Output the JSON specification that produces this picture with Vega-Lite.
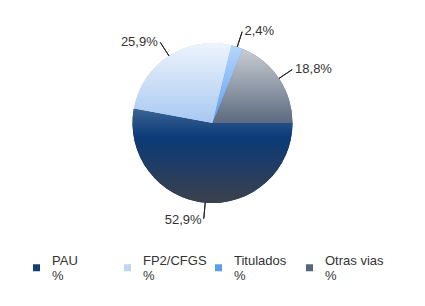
{
  "$schema": "https://vega.github.io/schema/vega-lite/v6.json",
  "width": 425,
  "height": 246,
  "autosize": "none",
  "padding": {"left": 0, "top": 0, "right": 0, "bottom": 60},
  "background": "white",
  "config": {"view": {"stroke": null}, "font": "Liberation Sans"},
  "data": {"values": [
    {"cat": "PAU", "pct": 52.9, "lbl": "52,9%", "o": 1, "side": "L"},
    {"cat": "FP2/CFGS", "pct": 25.9, "lbl": "25,9%", "o": 2, "side": "L"},
    {"cat": "Titulados", "pct": 2.4, "lbl": "2,4%", "o": 3, "side": "R"},
    {"cat": "Otras vias", "pct": 18.8, "lbl": "18,8%", "o": 4, "side": "R"}
  ]},
  "transform": [
    {"stack": "pct", "groupby": [], "as": ["s", "e"], "sort": [{"field": "o"}]},
    {"calculate": "(datum.s + datum.e) / 2", "as": "mid"}
  ],
  "layer": [
    {
      "mark": {"type": "arc", "outerRadius": 80},
      "encoding": {
        "theta": {"field": "s", "type": "quantitative", "stack": null, "scale": {"type": "linear", "domain": [0, 100], "range": [1.5707963, 7.8539816]}},
        "theta2": {"field": "e"},
        "color": {
          "field": "cat", "type": "nominal",
          "scale": {"domain": ["PAU", "FP2/CFGS", "Titulados", "Otras vias"], "range": ["#173f72", "#bcd5f3", "#5c9de8", "#56667c"]},
          "legend": {
            "orient": "none", "legendX": 30, "legendY": 261,
            "direction": "horizontal", "columns": 4, "title": null,
            "symbolType": "square", "symbolSize": 49, "symbolStrokeWidth": 0,
            "labelExpr": "[datum.label, '%']",
            "labelBaseline": "bottom",
            "labelFontSize": 13, "labelColor": "#333333", "labelFont": "Liberation Sans",
            "labelOffset": 9, "columnPadding": 5, "gridAlign": "all"
          }
        }
      }
    },
    {
      "transform": [{"filter": "datum.cat === 'PAU'"}],
      "mark": {"type": "arc", "outerRadius": 80, "color": {"gradient": "linear", "x1": 0, "y1": 0, "x2": 0, "y2": 1, "stops": [
        {"offset": 0, "color": "#3d6494"}, {"offset": 0.3, "color": "#0a3a78"}, {"offset": 1, "color": "#3c414c"}]}},
      "encoding": {
        "theta": {"field": "s", "type": "quantitative", "stack": null},
        "theta2": {"field": "e"}
      }
    },
    {
      "transform": [{"filter": "datum.cat === 'FP2/CFGS'"}],
      "mark": {"type": "arc", "outerRadius": 80, "color": {"gradient": "linear", "x1": 0, "y1": 0, "x2": 0, "y2": 1, "stops": [
        {"offset": 0, "color": "#eef4fc"}, {"offset": 1, "color": "#a8c8f2"}]}},
      "encoding": {
        "theta": {"field": "s", "type": "quantitative", "stack": null},
        "theta2": {"field": "e"}
      }
    },
    {
      "transform": [{"filter": "datum.cat === 'Titulados'"}],
      "mark": {"type": "arc", "outerRadius": 80, "color": {"gradient": "linear", "x1": 0, "y1": 0, "x2": 0, "y2": 1, "stops": [
        {"offset": 0, "color": "#b7d5fa"}, {"offset": 1, "color": "#5c9ef0"}]}},
      "encoding": {
        "theta": {"field": "s", "type": "quantitative", "stack": null},
        "theta2": {"field": "e"}
      }
    },
    {
      "transform": [{"filter": "datum.cat === 'Otras vias'"}],
      "mark": {"type": "arc", "outerRadius": 80, "color": {"gradient": "linear", "x1": 0, "y1": 0, "x2": 0, "y2": 1, "stops": [
        {"offset": 0, "color": "#c9cdd3"}, {"offset": 1, "color": "#5b6a80"}]}},
      "encoding": {
        "theta": {"field": "s", "type": "quantitative", "stack": null},
        "theta2": {"field": "e"}
      }
    },
    {
      "mark": {"type": "arc", "outerRadius": 96, "innerRadius": 80, "filled": false, "stroke": "#222222", "strokeWidth": 1},
      "encoding": {
        "theta": {"field": "mid", "type": "quantitative", "stack": null},
        "theta2": {"field": "mid"}
      }
    },
    {
      "transform": [{"filter": "datum.side === 'L'"}],
      "mark": {"type": "text", "radius": 97, "align": "right", "baseline": "middle", "dx": -2, "fontSize": 13, "font": "Liberation Sans", "color": "#333333"},
      "encoding": {
        "theta": {"field": "mid", "type": "quantitative", "stack": null},
        "text": {"field": "lbl"}
      }
    },
    {
      "transform": [{"filter": "datum.side === 'R'"}],
      "mark": {"type": "text", "radius": 97, "align": "left", "baseline": "middle", "dx": 2, "fontSize": 13, "font": "Liberation Sans", "color": "#333333"},
      "encoding": {
        "theta": {"field": "mid", "type": "quantitative", "stack": null},
        "text": {"field": "lbl"}
      }
    }
  ]
}
